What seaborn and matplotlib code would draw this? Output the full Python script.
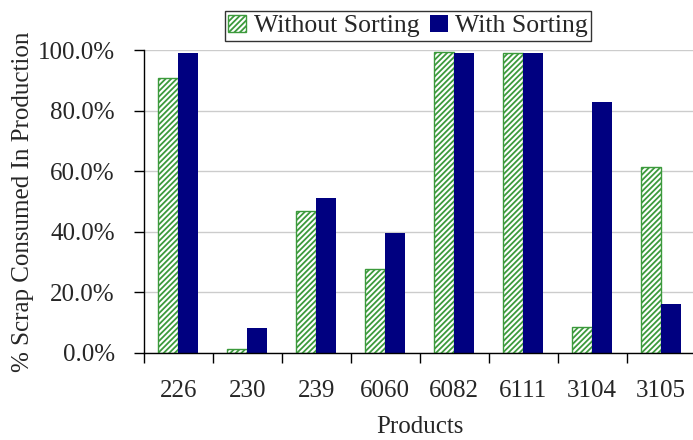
import matplotlib
matplotlib.use("Agg")
import matplotlib.pyplot as plt
import seaborn as sns
import pandas as pd
from matplotlib.ticker import PercentFormatter, FixedLocator

# Share of scrap consumed in production, per product
products = ["226", "230", "239", "6060", "6082", "6111", "3104", "3105"]
without_sorting = [0.910, 0.012, 0.468, 0.275, 0.994, 0.992, 0.085, 0.613]
with_sorting = [0.992, 0.082, 0.510, 0.397, 0.992, 0.992, 0.829, 0.162]
series_names = ["Without Sorting", "With Sorting"]

df = pd.DataFrame({
    "Products": products * 2,
    "value": without_sorting + with_sorting,
    "series": [series_names[0]] * len(products) + [series_names[1]] * len(products),
})

sns.set_style("white")
plt.rcParams["font.family"] = ["Liberation Serif", "DejaVu Serif"]
plt.rcParams["hatch.linewidth"] = 1.3

fig = plt.figure(figsize=(6.93, 4.40), dpi=100)
ax = fig.add_axes([144 / 693, 87.5 / 440, 551.5 / 693, 302 / 440])

green = "#3c9a3c"
navy = "#000080"
sns.barplot(data=df, x="Products", y="value", hue="series", order=products,
            hue_order=series_names, palette=["white", navy], width=0.58,
            gap=0, saturation=1, legend=False, ax=ax)

# hatched, green-outlined bars for the unsorted series
for patch in ax.containers[0]:
    patch.set_facecolor("white")
    patch.set_edgecolor(green)
    patch.set_hatch("//////")
    patch.set_linewidth(1.0)
for patch in ax.containers[1]:
    patch.set_edgecolor(navy)
    patch.set_linewidth(0)

ax.set_xlim(-0.5, 7.5)
ax.set_ylim(0, 1.0)
ax.yaxis.set_major_locator(FixedLocator([0, 0.2, 0.4, 0.6, 0.8, 1.0]))
ax.yaxis.set_major_formatter(PercentFormatter(1.0, decimals=1))
ax.grid(axis="y", color="#cccccc", linewidth=1.0)
ax.set_axisbelow(True)

for side in ["top", "right"]:
    ax.spines[side].set_visible(False)
for side in ["left", "bottom"]:
    ax.spines[side].set_color("black")
    ax.spines[side].set_linewidth(1.0)

# category labels centred, tick marks between categories
ax.set_xticks(range(len(products)))
ax.set_xticklabels(products)
ax.set_xticks([i - 0.5 for i in range(len(products) + 1)], minor=True)
ax.tick_params(axis="x", which="major", length=0, pad=20, labelsize=18)
ax.tick_params(axis="x", which="minor", length=7, width=1, direction="out",
               color="black", bottom=True)
ax.tick_params(axis="y", which="major", length=7, width=1, direction="out",
               color="black", left=True, pad=14, labelsize=18)

ax.set_xlabel("Products", fontsize=18, labelpad=10)
ax.set_ylabel("% Scrap Consumed In Production", fontsize=18, labelpad=3)

leg = fig.legend(handles=list(ax.containers), labels=series_names,
                 loc="center", bbox_to_anchor=(408 / 693, 1 - 26 / 440),
                 ncol=2, fontsize=18.5, frameon=True, fancybox=False,
                 handlelength=0.7, handleheight=0.7, handletextpad=0.3,
                 columnspacing=0.4, borderpad=0.12, borderaxespad=0)
leg.get_frame().set_edgecolor("black")
leg.get_frame().set_linewidth(1.0)

fig.savefig("out.png", dpi=100)
